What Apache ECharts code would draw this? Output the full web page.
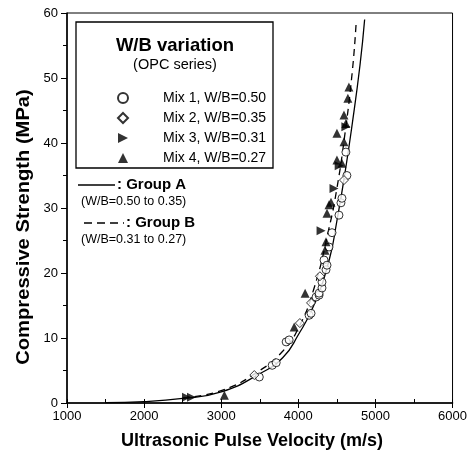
<!DOCTYPE html>
<html>
<head>
<meta charset="utf-8">
<script src="https://cdn.jsdelivr.net/npm/echarts@6/dist/echarts.min.js"></script>
<style>html,body{margin:0;padding:0;background:#fff}#c{width:470px;height:462px}</style>
</head>
<body>
<div id="c"></div>
<script>
// ---- data (velocity m/s, strength MPa) ----
var mix1 = [[3494,4.0],[3661,5.8],[3713,6.2],[3842,9.4],[3881,9.7],[4140,13.5],[4165,13.8],[4230,16.3],[4269,16.6],[4269,16.9],[4307,17.7],[4307,18.6],[4333,22.0],[4359,20.5],[4372,21.2],[4398,24.0],[4437,26.2],[4527,28.9],[4553,30.8],[4566,31.5],[4617,38.6],[4630,35.0]];
var mix2 = [[3429,4.3],[4165,15.4],[4280,19.5],[4592,34.3],[4020,12.3]];
var mix3 = [[2550,0.9],[2615,0.9],[4295,26.5],[4463,33.0],[4617,42.5],[4530,36.5]];
var mix4 = [[3041,1.2],[3946,11.7],[4088,16.9],[4346,23.5],[4359,24.8],[4372,29.2],[4398,30.5],[4424,30.9],[4501,37.4],[4566,36.9],[4501,41.5],[4592,40.2],[4592,44.3],[4617,43.0],[4643,46.9],[4656,48.6]];
var groupA = [[1500,0.05],[2000,0.2],[2500,0.7],[3000,1.7],[3500,4.5],[3800,7.0],[4000,10.5],[4200,15.0],[4400,22.0],[4500,28.0],[4600,35.0],[4700,43.0],[4800,52.0],[4860,59.0]];
var groupB = [[2500,0.8],[3000,1.9],[3500,5.0],[3800,8.0],[4000,11.5],[4200,17.5],[4400,27.0],[4500,33.0],[4600,41.0],[4700,51.0],[4750,58.5]];
var xTicks = [1000,2000,3000,4000,5000,6000];
var yTicks = [0,10,20,30,40,50,60];
var names = ['Mix 1, W/B=0.50','Mix 2, W/B=0.35','Mix 3, W/B=0.31','Mix 4, W/B=0.27'];

var F = 'Liberation Sans, Arial, Helvetica, sans-serif';
var chart = echarts.init(document.getElementById('c'));
var axisLine = {show:true, lineStyle:{color:'#000', width:1.5}};
var rightTri = 'path://M0,0L10,5L0,10Z';
chart.setOption({
  animation:false,
  backgroundColor:'#fff',
  grid:{left:67, right:16, top:13, bottom:59, show:true, borderColor:'#000', borderWidth:1},
  xAxis:[{
    type:'value', min:xTicks[0], max:xTicks[xTicks.length-1], interval:1000,
    axisLine:axisLine, splitLine:{show:false},
    axisTick:{show:true, length:5, lineStyle:{color:'#000'}},
    axisLabel:{color:'#000', fontFamily:F, fontSize:13, margin:7, formatter:function(v){return String(v);}}
  },{
    type:'value', position:'bottom', min:xTicks[0], max:xTicks[xTicks.length-1], interval:500,
    axisLine:{show:false}, splitLine:{show:false}, axisLabel:{show:false},
    axisTick:{show:true, inside:true, length:4, lineStyle:{color:'#000'}}
  }],
  yAxis:{
    type:'value', min:yTicks[0], max:yTicks[yTicks.length-1], interval:10,
    axisLine:axisLine, splitLine:{show:false},
    axisTick:{show:true, length:6, lineStyle:{color:'#000'}},
    minorTick:{show:true, splitNumber:2, length:4, lineStyle:{color:'#000'}},
    axisLabel:{color:'#000', fontFamily:F, fontSize:13, margin:9}
  },
  legend:{
    left:112, top:85, orient:'vertical', itemGap:4, itemWidth:10, itemHeight:10,
    data:[{name:names[0]},{name:names[1]},{name:names[2], icon:rightTri},{name:names[3]}],
    textStyle:{fontFamily:F, fontSize:14, lineHeight:16, color:'#000', padding:[0,0,0,30]}
  },
  graphic:[
    {type:'rect', shape:{x:76, y:22, width:197, height:146}, style:{fill:'none', stroke:'#000', lineWidth:1.3}, z:10},
    {type:'text', x:175, y:46, style:{text:'W/B variation', font:'bold 18.5px '+F, fill:'#000', textAlign:'center', textVerticalAlign:'middle'}, z:10},
    {type:'text', x:175, y:65, style:{text:'(OPC series)', font:'14.5px '+F, fill:'#000', textAlign:'center', textVerticalAlign:'middle'}, z:10},
    {type:'line', shape:{x1:78, y1:185, x2:115, y2:185}, style:{stroke:'#000', lineWidth:1.3}, z:10},
    {type:'text', x:117, y:185, style:{text:': Group A', font:'bold 15px '+F, fill:'#000', textVerticalAlign:'middle'}, z:10},
    {type:'text', x:81, y:202, style:{text:'(W/B=0.50 to 0.35)', font:'12.5px '+F, fill:'#000', textVerticalAlign:'middle'}, z:10},
    {type:'line', shape:{x1:84, y1:223, x2:124, y2:223}, style:{stroke:'#000', lineWidth:1.3, lineDash:[8,5]}, z:10},
    {type:'text', x:126, y:223, style:{text:': Group B', font:'bold 15px '+F, fill:'#000', textVerticalAlign:'middle'}, z:10},
    {type:'text', x:81, y:240, style:{text:'(W/B=0.31 to 0.27)', font:'12.5px '+F, fill:'#000', textVerticalAlign:'middle'}, z:10},
    {type:'text', x:24, y:227, rotation:Math.PI/2, scaleX:1.12, style:{text:'Compressive Strength (MPa)', font:'bold 18px '+F, fill:'#000', textAlign:'center', textVerticalAlign:'middle'}},
    {type:'text', x:252, y:441, style:{text:'Ultrasonic Pulse Velocity (m/s)', font:'bold 18px '+F, fill:'#000', textAlign:'center', textVerticalAlign:'middle'}}
  ],
  series:[
    {name:'Group A', type:'line', data:groupA, smooth:true, showSymbol:false, lineStyle:{color:'#000', width:1.3}, z:3},
    {name:'Group B', type:'line', data:groupB, smooth:true, showSymbol:false, lineStyle:{color:'#000', width:1.3, type:[7,5]}, z:3},
    {name:names[0], type:'scatter', data:mix1, symbol:'circle', symbolSize:8, itemStyle:{color:'#fff', borderColor:'#000', borderWidth:1}, z:4},
    {name:names[1], type:'scatter', data:mix2, symbol:'diamond', symbolSize:9, itemStyle:{color:'#fff', borderColor:'#000', borderWidth:1}, z:4},
    {name:names[2], type:'scatter', data:mix3, symbol:'triangle', symbolRotate:-90, symbolSize:9, itemStyle:{color:'#000'}, z:5},
    {name:names[3], type:'scatter', data:mix4, symbol:'triangle', symbolSize:9, itemStyle:{color:'#000'}, z:5}
  ]
});
</script>
</body>
</html>
